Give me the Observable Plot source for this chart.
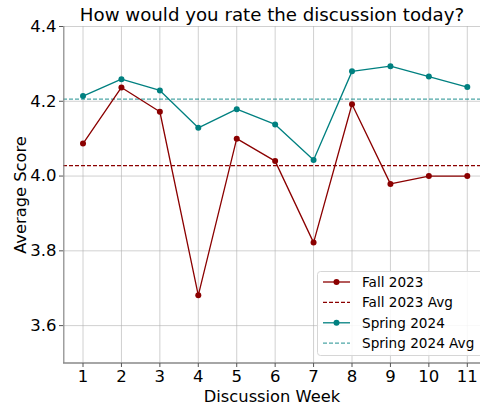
<!DOCTYPE html>
<html><head><meta charset="utf-8">
<script src="https://cdn.jsdelivr.net/npm/d3@7"></script>
<script src="https://cdn.jsdelivr.net/npm/@observablehq/plot@0.6"></script>
<style>
body{margin:0;background:#fff}
#chart svg{font-family:"DejaVu Sans",sans-serif;background:#fff;display:block}
</style>
</head><body><div id="chart"></div>
<script>
const title = "How would you rate the discussion today?";
const xLabel = "Discussion Week";
const yLabel = "Average Score";
const weeks = [1,2,3,4,5,6,7,8,9,10,11];
const fall2023 = [4.087,4.237,4.172,3.681,4.100,4.040,3.822,4.192,3.979,4.000,4.000];
const spring2024 = [4.214,4.259,4.229,4.129,4.179,4.138,4.043,4.280,4.294,4.266,4.238];
const fallAvg = [4.028];
const springAvg = [4.206];
const yTicks = [3.6,3.8,4.0,4.2,4.4];
const seriesNames = ["Fall 2023","Fall 2023 Avg","Spring 2024","Spring 2024 Avg"];

const fallColor = "#8b0000";
const springColor = "#008080";

const fallData = weeks.map((w,i)=>({week:w, score:fall2023[i]}));
const springData = weeks.map((w,i)=>({week:w, score:spring2024[i]}));

const chart = Plot.plot({
  width: 480, height: 405,
  marginTop: 26, marginBottom: 42, marginLeft: 63, marginRight: 0,
  style: {fontFamily: "DejaVu Sans", fontSize: "16px", background: "#fff", color: "#000"},
  x: {domain: [0.5, 11.5], range: [63.3, 486]},
  y: {domain: [3.5, 4.4], range: [362.5, 26]},
  marks: [
    Plot.gridX(weeks, {stroke: "#b0b0b0", strokeOpacity: 0.6, strokeWidth: 1}),
    Plot.gridY(yTicks, {stroke: "#b0b0b0", strokeOpacity: 0.6, strokeWidth: 1}),
    Plot.ruleY(fallAvg, {stroke: fallColor, strokeWidth: 1.2, strokeDasharray: "4,2"}),
    Plot.ruleY(springAvg, {stroke: springColor, strokeOpacity: 0.7, strokeWidth: 1.2, strokeDasharray: "4,2"}),
    Plot.line(fallData, {x: "week", y: "score", stroke: fallColor, strokeWidth: 1.3}),
    Plot.dot(fallData, {x: "week", y: "score", fill: fallColor, r: 3}),
    Plot.line(springData, {x: "week", y: "score", stroke: springColor, strokeWidth: 1.3}),
    Plot.dot(springData, {x: "week", y: "score", fill: springColor, r: 3}),
    Plot.ruleX([0.5], {stroke: "#888", strokeWidth: 1.2}),
    Plot.ruleY([3.5], {stroke: "#888", strokeWidth: 1.5}),
    Plot.axisX(weeks, {tickSize: 4, tickPadding: 3, stroke: "#555", fontSize: 16.5, tickFormat: d => String(d), label: null}),
    Plot.axisY(yTicks, {tickSize: 4, tickPadding: 3, stroke: "#555", fontSize: 16.5, tickFormat: d3.format(".1f"), label: null}),
    Plot.text([title], {frameAnchor: "top", lineAnchor: "middle", dy: -11, fontSize: 18.2, fill: "#000"}),
    Plot.text([xLabel], {frameAnchor: "bottom", lineAnchor: "middle", dy: 33, fontSize: 16.3, fill: "#000"}),
    Plot.text([yLabel], {frameAnchor: "left", textAnchor: "middle", lineAnchor: "middle", dx: -43, rotate: -90, fontSize: 16.3, fill: "#000"})
  ]
});
document.getElementById("chart").appendChild(chart);

// legend
const svg = d3.select(chart);
const lg = svg.append("g").attr("font-family", "DejaVu Sans").attr("font-size", 13.6).attr("text-anchor", "start");
lg.append("rect").attr("x", 317.5).attr("y", 271.5).attr("width", 170).attr("height", 84)
  .attr("rx", 3).attr("fill", "#fff").attr("fill-opacity", 0.85).attr("stroke", "#d6d6d6");
const items = [
  {name: seriesNames[0], color: fallColor, dash: null, dot: true, op: 1},
  {name: seriesNames[1], color: fallColor, dash: "4,2", dot: false, op: 1},
  {name: seriesNames[2], color: springColor, dash: null, dot: true, op: 1},
  {name: seriesNames[3], color: springColor, dash: "4,2", dot: false, op: 0.7}
];
items.forEach((it, i) => {
  const y = 282 + i * 20.4;
  lg.append("line").attr("x1", 323).attr("x2", 350).attr("y1", y).attr("y2", y)
    .attr("stroke", it.color).attr("stroke-width", it.dash ? 1.2 : 1.3)
    .attr("stroke-opacity", it.op).attr("stroke-dasharray", it.dash);
  if (it.dot) lg.append("circle").attr("cx", 336.5).attr("cy", y).attr("r", 3).attr("fill", it.color);
  lg.append("text").attr("x", 362).attr("y", y).attr("dy", "0.35em").attr("text-anchor", "start").text(it.name);
});
</script>
</body></html>
